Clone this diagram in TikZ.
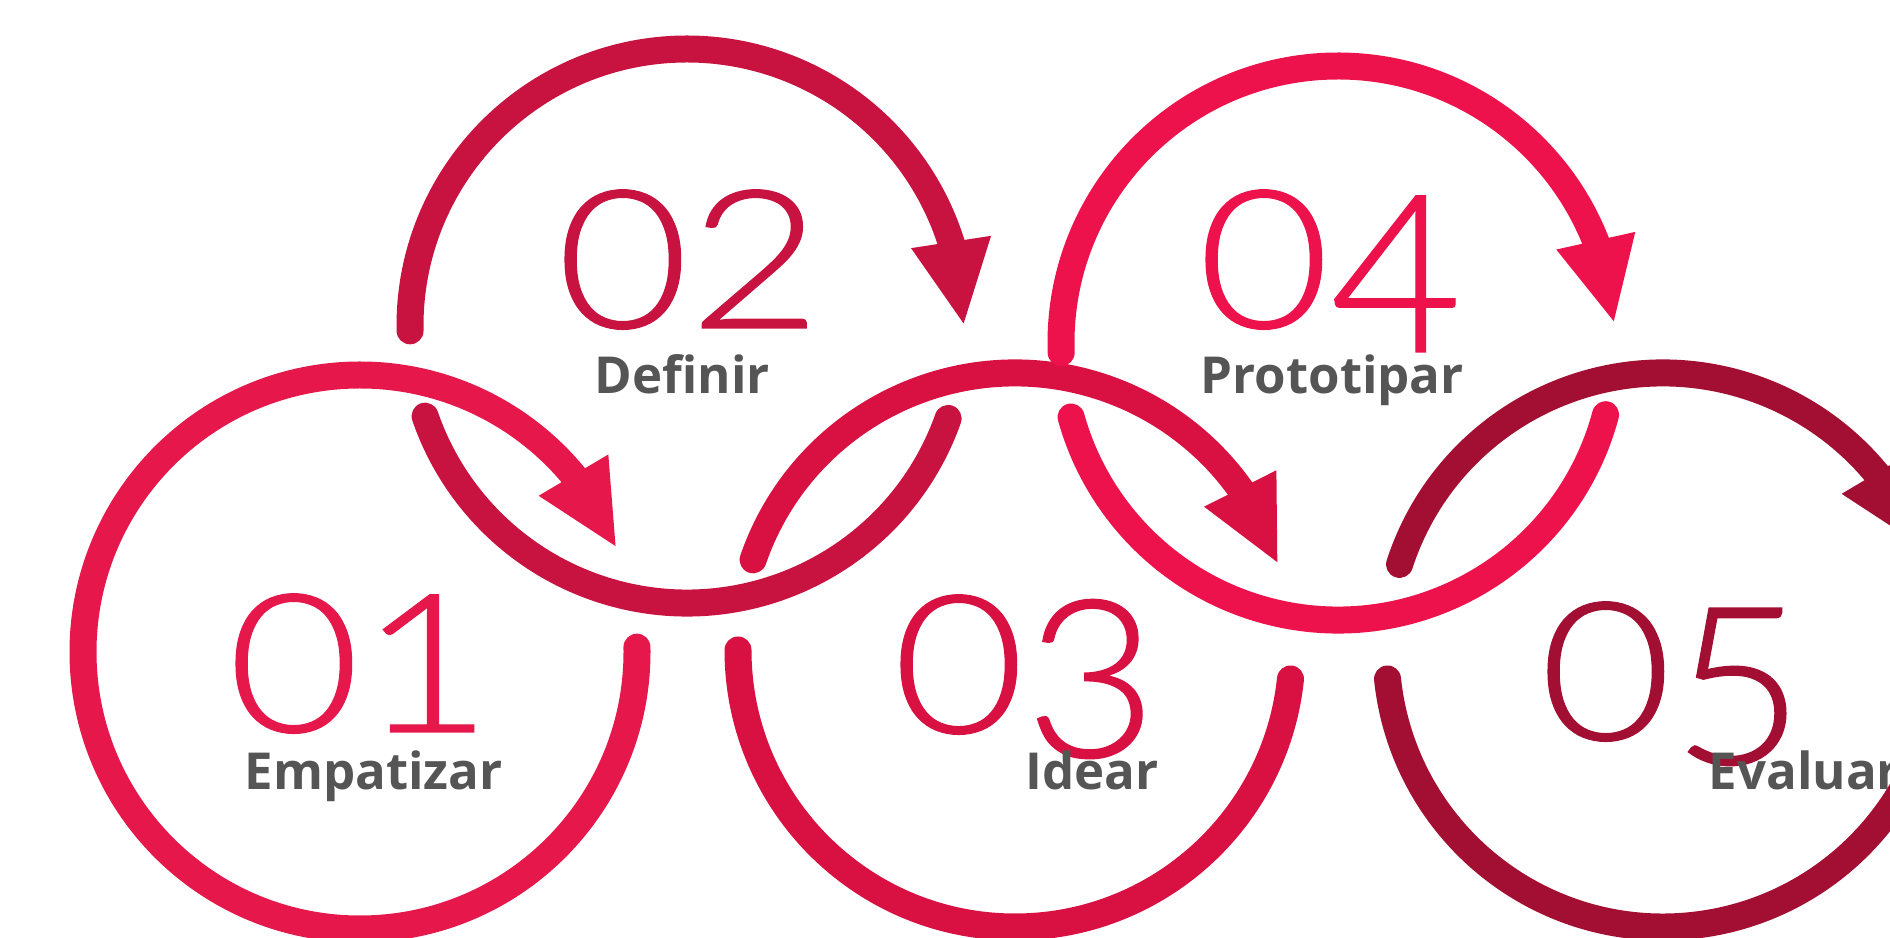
\documentclass[tikz,border=0pt]{standalone}
\usepackage{graphicx}
\usepackage{fontspec}
\newfontfamily\numfont[FakeStretch=1.18,FakeBold=0.6]{Lato Light}
\newfontfamily\labelfont[BoldFont={Open Sans Bold}]{Open Sans}
\usetikzlibrary{arrows.meta,bending}

\definecolor{redA}{HTML}{E5174B}
\definecolor{redB}{HTML}{C81341}
\definecolor{redC}{HTML}{D81142}
\definecolor{redD}{HTML}{EE124C}
\definecolor{redE}{HTML}{A30F33}
\definecolor{labelgray}{HTML}{555555}

\tikzset{
  ring/.style={line width=2.7mm, line cap=round},
  ringarrow/.style={ring, -{Triangle[length=8.5mm,width=7.4mm]}},
  numtext/.style={anchor=base west, inner sep=0pt, font=\numfont\fontsize{55}{55}\selectfont},
  steplabel/.style={anchor=base west, inner sep=0pt, text=labelgray, font=\labelfont\bfseries\fontsize{14.5}{14.5}\selectfont}
}

\newcommand{\lowdigit}[1]{\raisebox{-2.4mm}{\scalebox{1}[1.14]{#1}}}

\begin{document}
\begin{tikzpicture}
        \useasboundingbox (0,0) rectangle (18.9,9.38);
        \clip (0,0) rectangle (18.9,9.38);

        \coordinate (c1) at (3.60,2.86);
        \coordinate (c2) at (6.87,6.12);
        \coordinate (c3) at (10.15,2.88);
        \coordinate (c4) at (13.38,5.95);
        \coordinate (c5) at (16.63,2.88);

        \draw[ringarrow, redA] ([shift={(1:2.77)}]c1) arc (1:-338:2.77);

        \draw[ringarrow, redB] ([shift={(181:2.77)}]c2) arc (181:0:2.77);
        \draw[ring, redB] ([shift={(-19.5:2.77)}]c2) arc (-19.5:-161:2.77);

        \draw[ringarrow, redC] ([shift={(161:2.77)}]c3) arc (161:18:2.77);
        \draw[ring, redC] ([shift={(180:2.77)}]c3) arc (180:354:2.77);

        \draw[ringarrow, redD] ([shift={(182:2.77)}]c4) arc (182:4:2.77);
        \draw[ring, redD] ([shift={(-15:2.77)}]c4) arc (-15:-164.5:2.77);

        \draw[ringarrow, redE] ([shift={(162:2.77)}]c5) arc (162:22:2.77);
        \draw[ring, redE] ([shift={(186:2.77)}]c5) arc (186:354:2.77);

        \node[numtext, text=redA] (n1) at (2.27,2.06) {01};
        \node[numtext, text=redB] (n2) at (5.56,6.10) {02};
        \node[numtext, text=redC] (n3) at (8.92,2.05) {0\lowdigit{3}};
        \node[numtext, text=redD] (n4) at (11.97,6.10) {0\lowdigit{4}};
        \node[numtext, text=redE] (n5) at (15.39,1.98) {0\lowdigit{5}};

        \node[steplabel] (l1) at (2.44,1.48) {Empatizar};
        \node[steplabel] (l2) at (5.94,5.44) {Definir};
        \node[steplabel] (l3) at (10.25,1.48) {Idear};
        \node[steplabel] (l4) at (12.00,5.44) {Prototipar};
        \node[steplabel] (l5) at (17.08,1.48) {Evaluar};
\end{tikzpicture}
\end{document}
